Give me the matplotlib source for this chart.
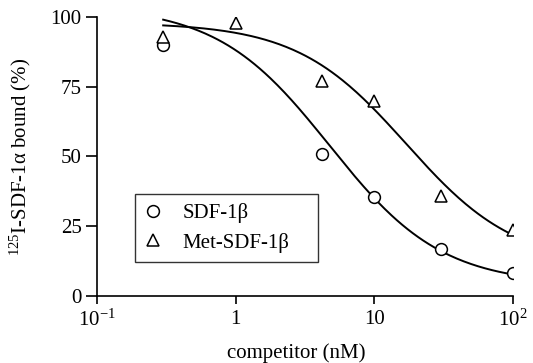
#importing the libraries
import numpy as np
import matplotlib
matplotlib.use('Agg')
import matplotlib.pyplot as plt

# competitor concentrations (nM) and percent of tracer bound
conc = [0.3, 4.2, 10, 30, 100]
sdf_bound = [90, 51, 35.5, 17, 8.2]
met_conc = [0.3, 1, 4.2, 10, 30, 100]
met_bound = [93, 98, 77, 70, 36, 23.6]

# fitted competition curve parameters: top, bottom, IC50 (nM), Hill slope
sdf_fit = [104, 4, 4.74, 1.07]
met_fit = [98, 11, 17, 1.1]

x_ticks = [0.1, 1, 10, 100]
x_tick_labels = ['10$^{-1}$', '1', '10', '10$^{2}$']
y_ticks = [0, 25, 50, 75, 100]


def competition(x, top, bottom, ic50, hill):
    '''
    one-site competition curve used for the solid lines
    '''
    return bottom + (top - bottom) / (1 + (x / ic50) ** hill)


plt.rcParams['font.family'] = ['Liberation Serif', 'DejaVu Serif']
plt.rcParams['mathtext.fontset'] = 'custom'
plt.rcParams['mathtext.rm'] = 'Liberation Serif'
plt.rcParams['mathtext.it'] = 'Liberation Serif:italic'

fig = plt.figure(figsize = (5.33, 3.63), dpi = 100)
ax = fig.add_axes([0.182, 0.1846, 0.7805, 0.7686])

#the fitted lines
xs = np.logspace(np.log10(0.3), 2, 200)
ax.plot(xs, competition(xs, *sdf_fit), color = 'black', lw = 1.4)
ax.plot(xs, competition(xs, *met_fit), color = 'black', lw = 1.4)

#the measured points
ax.plot(conc, sdf_bound, 'o', ms = 8.5, mfc = 'white', mec = 'black',
        mew = 1.1, label = 'SDF-1β')
ax.plot(met_conc, met_bound, '^', ms = 9, mfc = 'white', mec = 'black',
        mew = 1.1, label = 'Met-SDF-1β')

ax.set_xscale('log')
ax.set_xlim(0.1, 100)
ax.set_ylim(0, 100)
ax.set_xticks(x_ticks)
ax.set_xticklabels(x_tick_labels)
ax.minorticks_off()
ax.set_yticks(y_ticks)

for side in ['top', 'right']:
    ax.spines[side].set_visible(False)
for side in ['left', 'bottom']:
    ax.spines[side].set_linewidth(1.2)
ax.tick_params(axis = 'y', direction = 'out', length = 8, width = 1.2,
               labelsize = 15, pad = 3)
ax.tick_params(axis = 'x', direction = 'out', length = 6, width = 1.2,
               labelsize = 15, pad = 4)

ax.set_xlabel('competitor (nM)', fontsize = 15)
ax.xaxis.set_label_coords(0.48, -0.17)
ax.set_ylabel('$^{125}$I-SDF-1α bound (%)', fontsize = 15)
ax.yaxis.set_label_coords(-0.155, 0.5)

#legend box stretched to its full width
leg = ax.legend(loc = 'lower left', bbox_to_anchor = (0.091, 0.122, 0.44, 0.2),
                mode = 'expand', fontsize = 15, frameon = True,
                fancybox = False, handletextpad = 1.05, borderpad = 0.45,
                labelspacing = 0.44, handlelength = 0.8, borderaxespad = 0)
leg.get_frame().set_edgecolor('black')
leg.get_frame().set_linewidth(1.0)

plt.savefig('out.png', dpi = 100)
